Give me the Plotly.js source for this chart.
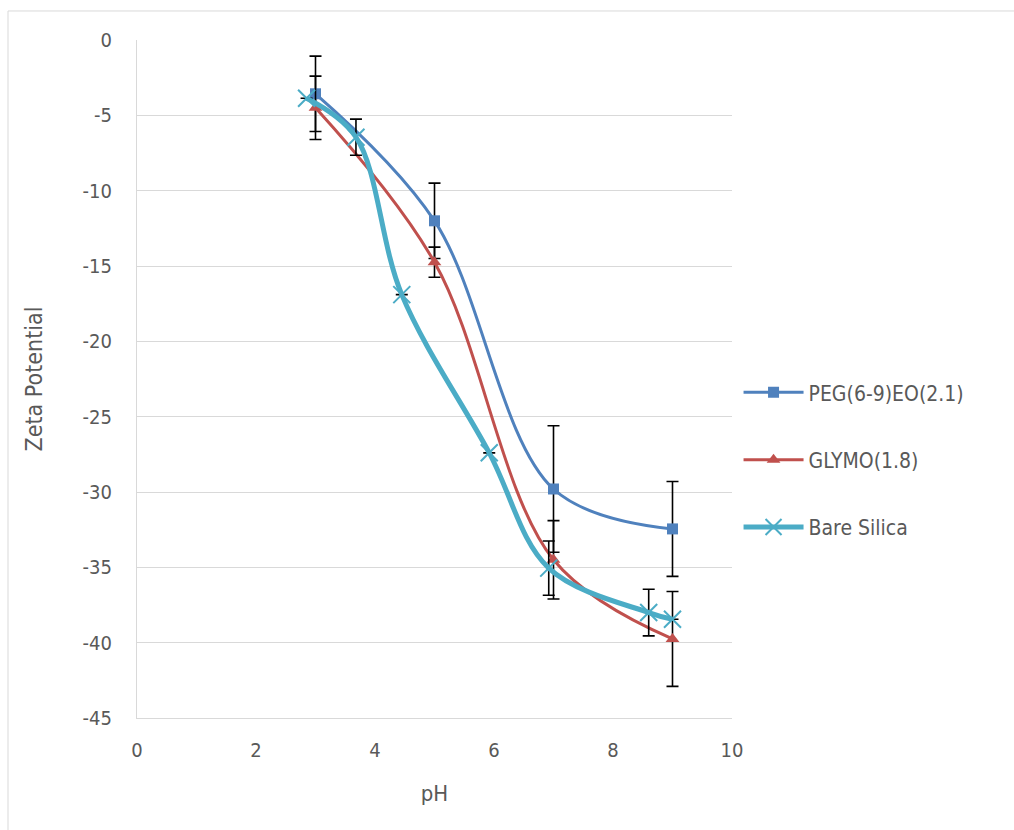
<!DOCTYPE html>
<html>
<head>
<meta charset="utf-8">
<script src="https://cdn.plot.ly/plotly-3.0.1.min.js"></script>
<style>html,body{margin:0;padding:0;background:#fff;}#chart{width:1014px;height:830px;}</style>
</head>
<body>
<div id="chart"></div>
<script>
// Data
const pegX = [3, 5, 7, 9];
const pegY = [-3.57, -12.0, -29.8, -32.45];
const pegErr = [2.5, 2.5, 4.2, 3.15];

const glymoX = [3, 5, 7, 9];
const glymoY = [-4.5, -14.75, -34.5, -39.75];
const glymoErr = [2.1, 1.0, 2.6, 3.15];

const bareX = [2.85, 3.68, 4.45, 5.92, 6.92, 8.6, 9.0];
const bareY = [-3.87, -6.45, -16.9, -27.4, -35.05, -38.0, -38.45];
const bareErr = [null, 1.2, null, null, 1.8, 1.55, null];

const xTicks = [0, 2, 4, 6, 8, 10];
const yTicks = [0, -5, -10, -15, -20, -25, -30, -35, -40, -45];

const FONT = "'Liberation Sans Narrow', 'DejaVu Sans Condensed', Arial, sans-serif";
const TXT = '#595959';

function errBar(arr) {
  return {type: 'data', array: arr, visible: true, color: '#000000', thickness: 1.6, width: 6};
}

const traces = [
  {
    x: pegX, y: pegY, name: 'PEG(6-9)EO(2.1)', type: 'scatter', mode: 'lines+markers',
    line: {color: '#4F81BD', width: 3, shape: 'spline', smoothing: 1},
    marker: {symbol: 'square', size: 11, color: '#4F81BD'},
    error_y: errBar(pegErr), legendgroup: 'a'
  },
  {
    x: glymoX, y: glymoY, name: 'GLYMO(1.8)', type: 'scatter', mode: 'lines+markers',
    line: {color: '#C0504D', width: 3, shape: 'spline', smoothing: 1},
    marker: {symbol: 'triangle-up', size: 12, color: '#C0504D'},
    error_y: errBar(glymoErr), legendgroup: 'b'
  },
  {
    x: bareX, y: bareY, name: 'Bare Silica', type: 'scatter', mode: 'lines+markers',
    line: {color: '#4BACC6', width: 5, shape: 'spline', smoothing: 1},
    marker: {symbol: 'x-thin-open', size: 17, color: '#4BACC6', line: {color: '#4BACC6', width: 2}},
    error_y: errBar(bareErr), legendgroup: 'c'
  }
];

const layout = {
  width: 1014, height: 830,
  paper_bgcolor: '#ffffff', plot_bgcolor: '#ffffff',
  margin: {l: 137, r: 282, t: 40, b: 112},
  font: {family: FONT, color: TXT, size: 20},
  showlegend: true,
  legend: {
    x: 1.011, y: 0.381, xanchor: 'left', yanchor: 'middle',
    font: {family: FONT, size: 21, color: TXT},
    tracegroupgap: 37, itemwidth: 60, bgcolor: 'rgba(0,0,0,0)'
  },
  xaxis: {
    range: [0, 10], tickvals: xTicks, ticktext: xTicks.map(String),
    showgrid: false, zeroline: false, showline: true, linecolor: '#D9D9D9', linewidth: 1,
    ticks: '', ticklabelstandoff: 14, tickfont: {family: FONT, size: 20, color: TXT},
    title: {text: 'pH', font: {family: FONT, size: 22, color: TXT}, standoff: 24},
    fixedrange: true
  },
  yaxis: {
    range: [-45, 0], tickvals: yTicks, ticktext: yTicks.map(String),
    showgrid: true, gridcolor: '#D9D9D9', gridwidth: 1,
    zeroline: false, showline: true, linecolor: '#D9D9D9', linewidth: 1,
    ticks: '', ticklabelstandoff: 20, tickfont: {family: FONT, size: 20, color: TXT},
    title: {text: 'Zeta Potential', font: {family: FONT, size: 23, color: TXT}, standoff: 33},
    fixedrange: true
  },
  shapes: [
    {type: 'rect', xref: 'paper', yref: 'paper', x0: -0.2168, x1: 2, y0: -1, y1: 1.0428,
     line: {color: '#D9D9D9', width: 1}, fillcolor: 'rgba(0,0,0,0)', layer: 'below'}
  ]
};

Plotly.newPlot('chart', traces, layout, {staticPlot: true, displayModeBar: false});
</script>
</body>
</html>
